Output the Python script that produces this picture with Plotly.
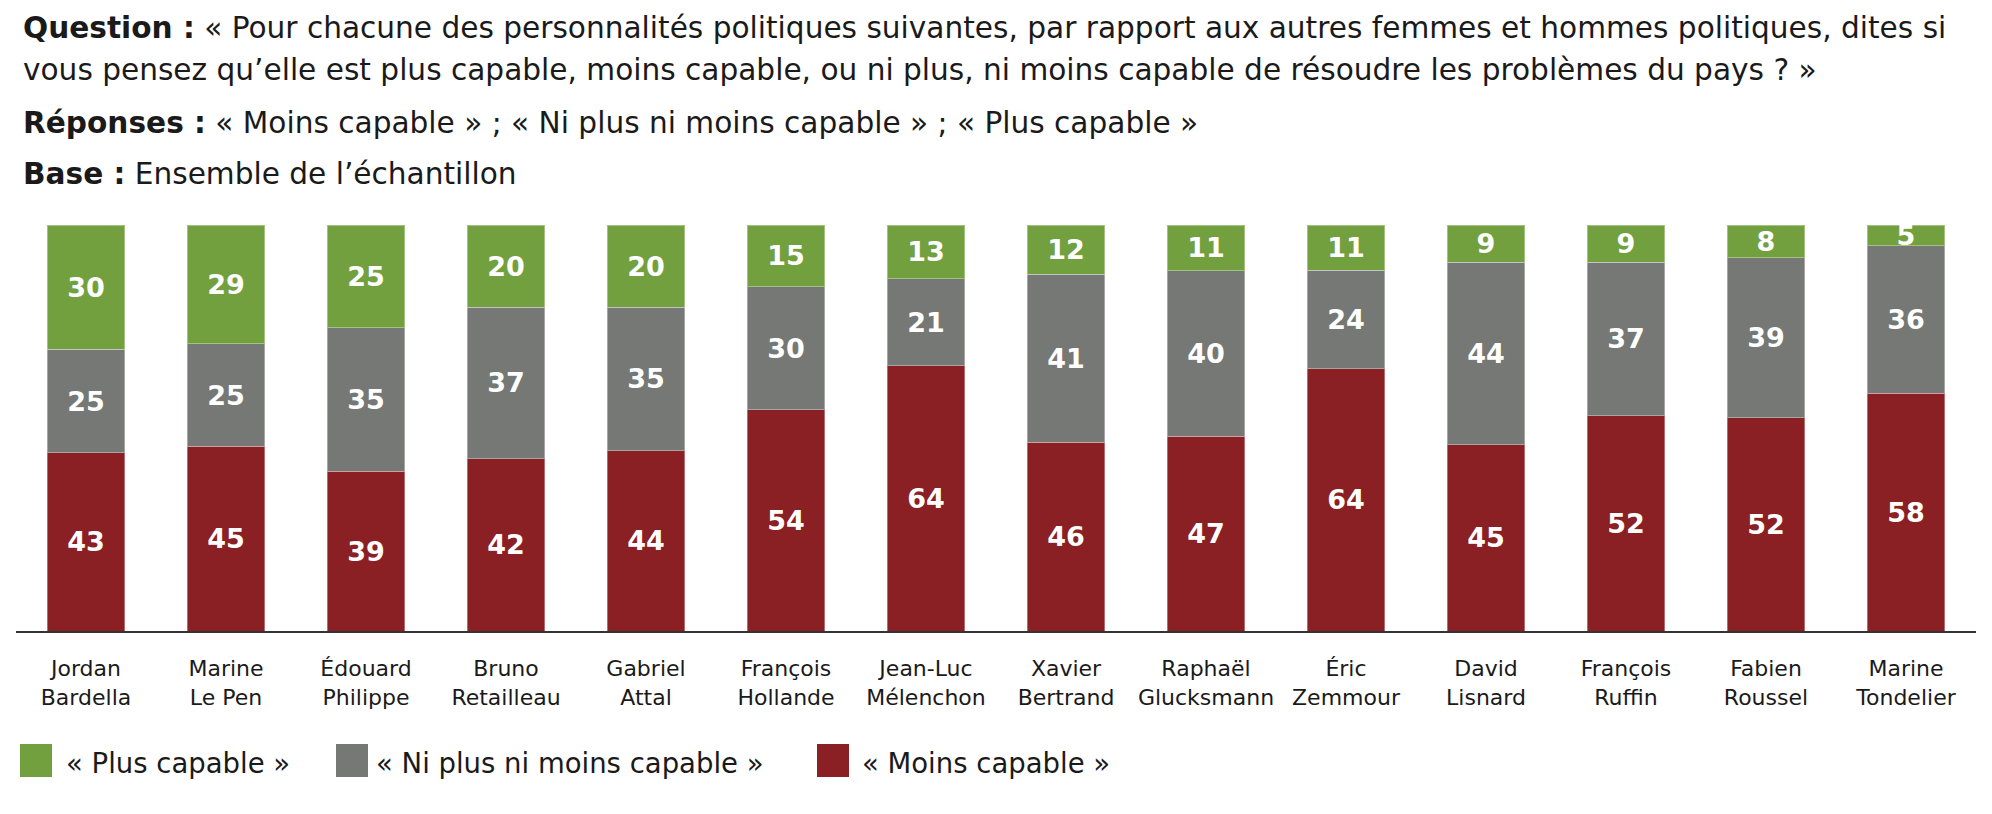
import plotly.graph_objects as go

# DATA
personnalites = ["Jordan<br>Bardella", "Marine<br>Le Pen", "Édouard<br>Philippe", "Bruno<br>Retailleau",
                 "Gabriel<br>Attal", "François<br>Hollande", "Jean-Luc<br>Mélenchon", "Xavier<br>Bertrand",
                 "Raphaël<br>Glucksmann", "Éric<br>Zemmour", "David<br>Lisnard", "François<br>Ruffin",
                 "Fabien<br>Roussel", "Marine<br>Tondelier"]
moins_capable = [43, 45, 39, 42, 44, 54, 64, 46, 47, 64, 45, 52, 52, 58]
ni_plus_ni_moins = [25, 25, 35, 37, 35, 30, 21, 41, 40, 24, 44, 37, 39, 36]
plus_capable = [30, 29, 25, 20, 20, 15, 13, 12, 11, 11, 9, 9, 8, 5]

series = [
    ("« Moins capable »", moins_capable, "#8A1F24"),
    ("« Ni plus ni moins capable »", ni_plus_ni_moins, "#757874"),
    ("« Plus capable »", plus_capable, "#72A03F"),
]

FONT = "DejaVu Sans"
INK = "#1a1a1a"
fig = go.Figure()

# BARS (stacked, normalised to 100 like the source chart)
for name, vals, color in series:
    fig.add_trace(go.Bar(
        x=personnalites, y=vals, name=name, showlegend=False,
        marker=dict(color=color, line=dict(color="rgba(255,255,255,0.35)", width=1)),
        text=[str(v) for v in vals], textposition="inside", insidetextanchor="middle",
        textangle=0, cliponaxis=True,
        textfont=dict(family=FONT, size=27, color="white", weight="bold"),
        hoverinfo="skip",
    ))

# page body has an 8px margin, so the figure is 16px smaller than the window
fig.update_layout(
    barmode="stack", barnorm="percent", bargap=0.445,
    width=1976, height=798,
    margin=dict(l=8, r=8, t=217, b=175),
    plot_bgcolor="white", paper_bgcolor="white",
    uniformtext=dict(minsize=27, mode="show"),
    font=dict(family=FONT, color=INK),
    showlegend=False,
)
fig.update_xaxes(showline=True, linecolor="#333333", linewidth=2, ticks="",
                 tickfont=dict(family=FONT, size=22, color=INK),
                 ticklabelstandoff=17, fixedrange=True)
fig.update_yaxes(range=[0, 100], visible=False, fixedrange=True)

# HEADER TEXT
header = [
    ("<b>Question :</b> « Pour chacune des personnalités politiques suivantes, par rapport aux autres femmes et hommes politiques, dites si", 197),
    ("vous pensez qu’elle est plus capable, moins capable, ou ni plus, ni moins capable de résoudre les problèmes du pays ? »", 155),
    ("<b>Réponses :</b> « Moins capable » ; « Ni plus ni moins capable » ; « Plus capable »", 102),
    ("<b>Base :</b> Ensemble de l’échantillon", 51),
]
for txt, dy in header:
    fig.add_annotation(text=txt, xref="paper", yref="paper", x=0, y=1, xanchor="left", yanchor="middle",
                       xshift=5, yshift=dy, showarrow=False, font=dict(size=29.6, color=INK))

# LEGEND (big square keys, as in the source)
legend_pos = [(4, 48), (320, 358), (801, 844)]
for (name, vals, color), (sq, tx) in zip(reversed(series), legend_pos):
    fig.add_shape(type="rect", xref="paper", yref="paper", xsizemode="pixel", ysizemode="pixel",
                  xanchor=0, yanchor=0, x0=sq, x1=sq + 32, y0=-146, y1=-113,
                  fillcolor=color, line=dict(width=0))
    fig.add_annotation(text=name, xref="paper", yref="paper", x=0, y=0, xanchor="left", yanchor="middle",
                       xshift=tx, yshift=-132, showarrow=False, font=dict(size=27.5, color=INK))

fig.write_html("out.html")
